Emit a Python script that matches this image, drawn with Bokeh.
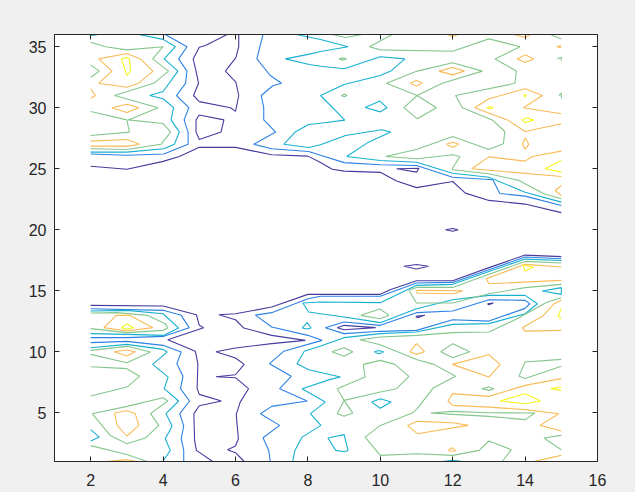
from bokeh.plotting import figure
from bokeh.models import LinearAxis, FixedTicker, Range1d
from bokeh.embed import file_html
from bokeh.resources import INLINE

NAVY = [
 [(2,25.2),(3,24.95),(4,25.6),(4.45,26),(5,26.75),(6,26.75),(7,26.14),(8,26.03),(8.35,25.5),(8.67,24.95),(9,24.8),(10,24.7),(10.45,24),(11,23.45),(12,23.95),(12.35,23),(13,22.4),(14,22.1),(15,21.4)],
 [(5.77,36),(5.17,35.1),(5,34.96),(4.83,34),(4.91,33),(4.98,32),(4.84,31),(5,30.5),(5.86,30),(6,29.7),(6.09,31),(6.01,32.1),(5.72,33),(6.01,34.1),(6.09,35),(6.09,36)],
 [(5,29.4),(5.68,29),(5.6,28),(5,27.4),(4.91,28),(4.91,29),(5,29.4)],
 [(10.45,25),(11.07,25.04),(11,24.72),(10.45,25)],
 [(11.8,20),(12,20.1),(12.15,20),(12,19.87),(11.8,20)],
 [(10.65,17),(11,17.15),(11.33,17),(11,16.78),(10.65,17)],
 [(2,13.8),(4,13.74),(4.92,13.03),(5,12.16),(5.12,11.97),(4.13,10.98),(4.89,10.03),(4.96,9.02),(4.94,6.97),(5,6.5),(5.61,5.96),(5,5.57),(4.85,4.92),(4.87,2.73),(4.92,1.91),(5.37,1)],
 [(6.24,1),(6,1.72),(5.78,1.97),(6,2.27),(6.08,2.87),(6.02,4.84),(6.13,5.87),(6.36,6.97),(6,7.87),(5.46,7.95),(6,8.11),(6.24,8.96),(6,9.48),(5.46,10),(6,10.3),(7,10.66),(7.93,10.93),(7,11.34),(6.23,11.94),(6,12.62),(5.54,13.03),(6,13.11),(7,13.66),(8,14.7),(10,14.7),(10.29,15.1),(11,15.82),(12,15.82),(13,16.89),(14,17.92),(15,17.79)],
 [(8.81,11.97),(9,12.16),(9.87,11.97),(9,11.8),(8.81,11.97)],
 [(10.98,12.9),(11.23,12.98),(11.02,12.79),(10.98,12.9)],
 [(12.96,13.93),(13.12,13.99),(13,13.85),(12.96,13.93)],
]

BLUE = [
 [(4.06,36),(4.66,35),(4.43,34),(4.66,33),(4.62,32),(4.37,31),(4.71,30),(4.58,29),(4.69,28),(4.69,27),(4.02,26.2),(3,26.1),(2,26.2)],
 [(6.76,36),(6.59,34),(6.96,32.64),(7.27,32),(7.03,31.8),(6.71,31),(6.78,30),(6.78,29),(7.11,28),(6.5,27),(7,26.63),(8.02,26.41),(8.35,26.1),(9,25.5),(10,25.32),(11,25.26),(12,24.3),(13.11,24.1),(13.3,22.97),(14,22.75),(15,21.98)],
 [(2,13.52),(4,13.39),(4.5,12.98),(4.72,11.97),(4.02,11.26),(3,11.15),(2,11.15)],
 [(2,10.74),(3,10.85),(4,10.52),(4.5,9.97),(4.38,9.02),(4.55,7.98),(4.48,6.97),(4.73,5.96),(4.46,4.92),(4.57,3.91),(4.5,2.87),(4.57,1.91),(4.57,1)],
 [(6.96,1),(6.92,1.91),(6.76,2.95),(7.22,3.96),(6.69,4.92),(7,5.52),(7.98,5.96),(7.22,6.97),(7.54,7.98),(6.94,9.02),(7.33,10.03),(8.39,10.93),(8,11.34),(7,12.02),(6.55,13),(7,13.2),(8,14.34),(8.35,14.54),(10,14.54),(11,15.63),(12,15.68),(13,16.72),(14,17.76),(15,17.62)],
 [(8.48,11.97),(9,12.43),(10,12.16),(11,13.2),(12,13.33),(13,14.26),(14,14.21),(14.13,13.93),(14,13.55),(13,12.51),(12,12.62),(11,11.75),(10,11.67),(9,11.48),(8.48,11.97)],
]

CYAN = [
 [(3.33,36),(4,35.6),(4.34,35),(4.03,34),(4.41,33),(4,31.33),(3.63,31),(4,30.73),(4.29,30),(4.22,29),(4.45,28),(4.31,27),(4.02,26.63),(3,26.36),(2,26.36)],
 [(7.68,36),(8.35,35.59),(9.11,35),(8.35,34.6),(8.04,34.39),(7.38,34),(8.04,33.54),(8.35,33.4),(9,33.19),(10,34.17),(10.68,34),(10.29,33),(10,32.64),(9,31.9),(8.35,31),(9.02,28.98),(8.35,28.73),(8.02,28.62),(7.65,28),(7.33,27),(8.02,26.74),(8.35,26.96),(9.04,27.72),(10.04,28.19),(10.29,28),(9.64,27.12),(9.07,26),(10,25.67),(11,25.53),(12,24.63),(13,24.3),(14,23.07),(15,22.26)],
 [(9.58,30.02),(9.99,30.54),(10.19,29.99),(10,29.66),(9.58,30.02)],
 [(2,13.33),(3,13.39),(4,13.11),(4.43,11.94),(4.02,11.34),(3,11.42),(2,11.48)],
 [(2,10.33),(3,10.6),(4,10.19),(4.11,9.97),(3.71,8.96),(4.14,7.92),(4.03,6.97),(4.43,5.96),(4.08,4.92),(4.25,3.91),(4.06,2.87),(4.2,1.91),(3.99,1)],
 [(7.86,13.99),(8.35,14.07),(10,14.02),(11,15.44),(12,15.52),(13,16.58),(14,17.59),(15,17.48)],
 [(7.86,13.99),(8.02,13.25),(8.35,13.11),(9,12.84),(10,12.38),(11,13.52),(12,14.26),(13,14.62),(14,14.62),(14.34,13.93),(14,13.11),(13,12.3),(12,12.24),(11,11.61),(10,11.48),(9,11.15),(8.35,10.46),(7.9,10.03),(7.7,9.02),(8.02,8.52),(8.9,7.92),(8.62,7.73),(7.84,6.97),(8.48,5.87),(8.07,4.92),(8.36,3.96),(7.84,3),(7.64,1.91),(7.58,1)],
 [(7.84,11.94),(7.98,12.38),(8.09,11.94),(7.98,11.86),(7.84,11.94)],
 [(2,3.61),(2.24,3),(2,2.68)],
 [(9.83,9.97),(9.96,10.1),(10.1,9.97),(9.96,9.84),(9.83,9.97)],
 [(9.76,5.87),(10,6.15),(10.3,5.87),(10,5.36),(9.76,5.87)],
 [(8.55,2.92),(9,3.2),(9.11,1.91),(9,1.8),(8.77,1.91),(8.55,2.92)],
 [(11.71,1),(12,1.09),(12.27,1)],
 [(14.47,14.97),(15,15.25),(15,14.7),(14.47,14.97)],
 [(2,35.95),(2.1,35.95),(2.2,36)],
]

GREEN = [
 [(2,35.37),(2.41,35),(3,34.74),(4,35),(3.71,34),(4.15,33),(3.74,32),(2.66,31),(3.86,30),(3.04,29),(4,28.7),(4.21,28),(3.94,27),(3,26.57),(2,26.63)],
 [(2,29.69),(3,29),(3.07,28),(2,27.72)],
 [(2,33.51),(2.24,33),(2,32.5)],
 [(8.67,36),(9.04,35.75),(9.5,36)],
 [(8.86,34),(8.95,34.09),(9.07,34),(8.95,33.92),(8.86,34)],
 [(8.92,31),(9.01,31.11),(9.08,31),(9.01,30.89),(8.92,31)],
 [(10.17,32),(11.02,33),(12,33.68),(12.82,33),(11.71,32),(11.02,31),(11.55,30),(11.02,29.09),(10.65,30),(11.02,31),(10.17,32)],
 [(10.33,36),(9.7,35),(10,34.74),(12,34.63),(13,35.64),(13.86,35),(13.17,34),(13.76,33),(13.72,32),(12.08,31),(12.27,30),(13.09,29),(13.44,28.05),(13.4,27.04),(13,26.57),(12,27.64),(11.02,26.6),(10.15,26),(11.02,25.81),(12,26.14),(12.2,26),(11.99,24.99),(12,24.91),(13,24.58),(13.83,24.04),(14.52,22.94),(15,22.53)],
 [(14.7,36),(15,35.64)],
 [(14.89,34),(15,34.14),(15,33.84)],
 [(14.93,31),(15,31.19),(15,30.78)],
 [(2,13.17),(2.73,13.2),(3.56,12.98),(4.06,12.3),(4.13,11.94),(4,11.75),(3,11.56),(2,11.89)],
 [(2,10.11),(3,10.44),(3.65,9.97),(3,9.1),(2,9.78)],
 [(2,8.77),(3,8.61),(3.35,7.98),(3,7.1),(2,6.37)],
 [(2.04,4.92),(3,5.52),(4,6.23),(4.13,5.96),(3.65,4.92),(3.88,3.96),(3.51,2.92),(3,2.46),(2.54,3.14),(2.04,4.92)],
 [(2,2.3),(3,1.58),(3.56,1)],
 [(15,17.27),(14,17.4),(13,16.34),(12,15.27),(11,15.27),(10.79,15.03),(11,13.99),(12,13.99),(13,14.75),(14,15.25),(15,15.52)],
 [(15,14.43),(14.61,14.07),(13.78,12.7),(13,11.61),(12,11.56),(11.02,11.34),(10,11.2),(9.44,10.98),(10,10.57),(11.02,9.34),(11.48,8.96),(12.08,7.98),(11.46,7.02),(11.02,5.33),(10.88,4.97),(10,3.96),(9.58,3),(10,1.5),(11.02,1.64),(12,1.5),(12.73,1.91),(13,2.68),(13.62,1.97),(13.37,1)],
 [(9,6.01),(8.81,6.97),(9.58,7.92),(9.53,8.96),(10,9.29),(10.4,8.96),(10.79,7.98),(10.45,6.97),(10,6.69),(9,6.01),(8.81,4.92),(9,4.7),(9.24,4.97),(9,6.01)],
 [(8.66,10),(9,10.33),(9.24,10),(9,9.62),(8.66,10)],
 [(11.67,10),(12,10.66),(12.47,10),(12,9.51),(11.67,10)],
 [(9.46,12.98),(9.99,13.5),(10.24,12.98),(9.99,12.7),(9.46,12.98)],
 [(12.8,6.97),(13,7.1),(13.14,6.97),(13,6.83),(12.8,6.97)],
 [(11.39,4.97),(12,5.11),(13,5),(14.27,4.97),(14,4.43),(13,4.7),(12,4.86),(11.39,4.97)],
 [(15,9.37),(14,9.15),(13.83,7.98),(14,7.81),(15,8.8)],
 [(15,3.14),(14.52,2.92),(15,1.96)],
]

ORANGE = [
 [(2.22,34),(3,34.44),(3.37,34),(3.72,33),(3.32,32),(3,31.68),(2.22,32),(2.59,33),(2.22,34)],
 [(2,31.55),(2.13,31),(2,30.78)],
 [(2.58,30),(3,30.29),(3.33,30),(3,29.6),(2.58,30)],
 [(2,27.26),(3,27.39),(3.35,27),(3.02,26.85),(2,26.85)],
 [(11.62,33),(12,33.3),(12.33,33),(12,32.69),(11.62,33)],
 [(10.82,32),(11,32.23),(11.17,32),(11,31.77),(10.82,32)],
 [(11.85,36),(12,35.84),(12.15,36)],
 [(13.69,36),(14,35.75),(14.15,36)],
 [(15,35.1),(14.87,35),(15,34.91)],
 [(13.78,34),(14,34.33),(14.24,34),(14,33.73),(13.78,34)],
 [(15,29.5),(13.95,30),(14.48,31),(14,31.55),(13,30.73),(12.61,30),(13.51,29),(14,28.05),(15,28.68)],
 [(11.82,27),(12,27.17),(12.17,27),(12,26.76),(11.82,27)],
 [(14,27.53),(14.1,27),(14,26.6),(13.93,27),(14,27.53)],
 [(15,26.44),(14.2,26),(14,25.62),(13,25.97),(12.53,25),(15,24.36)],
 [(15,23.62),(14.83,23.21),(15,22.8)],
 [(2.36,11.97),(2.71,12.98),(3.07,12.98),(3.72,11.97),(3,11.7),(2.36,11.97)],
 [(2.64,10),(3,10.14),(3.23,10),(3,9.64),(2.64,10)],
 [(2.66,4.97),(3,5.16),(3.23,4.92),(3.33,3.96),(3,3.09),(2.73,3.96),(2.66,4.97)],
 [(2.41,1),(3,1.15),(3.28,1)],
 [(15,16.94),(14,17.16),(12.93,15.98),(13,15.57),(15,15.85)],
 [(10.98,14.95),(11.02,15.03),(12.28,15),(12.03,14.75),(11.02,14.81),(10.98,14.95)],
 [(15,14.21),(14.8,13.93),(14.48,12.9),(13.92,11.97),(14,11.69),(15,11.75)],
 [(10.82,10),(11,10.66),(11.22,10),(11,9.78),(10.82,10)],
 [(11.99,8.96),(13,9.75),(13.31,8.96),(13,7.92),(11.99,8.96)],
 [(15,7.79),(14,7.24),(13,6.34),(12,6.56),(11.87,5.96),(12,5.6),(13,5.46),(14,5.25),(14.93,4.92),(14.41,3.96),(15,3.5)],
 [(10.75,3.96),(11.02,4.29),(12,4.18),(12.43,3.96),(11.02,3.28),(10.75,3.96)],
 [(11.88,1.97),(12,2.13),(12.08,1.86),(11.9,1.86),(11.88,1.97)],
 [(14.24,1),(15,1.5)],
]

YELLOW = [
 [(2.85,34),(3,34.11),(3.07,34),(3.1,33),(3,32.64),(2.85,34)],
 [(2.84,11.97),(3,12.27),(3.19,11.97),(3,11.83),(2.84,11.97)],
 [(13.95,31),(14,31.08),(14.04,31),(14,30.92),(13.95,31)],
 [(12.94,30),(13.03,30.1),(13.12,30),(13.03,29.9),(12.94,30)],
 [(13.91,29),(14.04,29.17),(14.24,28.98),(14.01,28.79),(13.91,29)],
 [(15,25.67),(14.55,25),(15,24.72)],
 [(13.94,17.08),(14.23,16.94),(14,16.61),(13.94,17.08)],
 [(13.31,5.96),(14,6.56),(14.43,5.96),(14,5.74),(13.31,5.96)],
 [(15,7.1),(14.71,6.97),(15,6.83)],
 [(15,13.52),(14.91,12.92),(15,12.7)],
 [(14.94,1),(15,1.02)],
]

X_TICKS = [2, 4, 6, 8, 10, 12, 14, 16]
Y_TICKS = [5, 10, 15, 20, 25, 30, 35]
LEVELS = [(NAVY, "#463c9e"), (BLUE, "#2c82e4"), (CYAN, "#17b0d0"),
          (GREEN, "#85c68c"), (ORANGE, "#f8bb57"), (YELLOW, "#f5f520")]

BG = "#f0f0f0"
INK = "#262626"

p = figure(width=635, height=492, toolbar_location=None, output_backend="svg",
           x_range=Range1d(1, 16), y_range=Range1d(1, 36),
           min_border_left=54, min_border_right=38, min_border_top=34, min_border_bottom=31,
           background_fill_color="white", border_fill_color=BG, x_axis_location=None, y_axis_location=None)
p.grid.visible = False
p.outline_line_color = INK
p.outline_line_width = 1


def style(ax, ticks, labels, standoff):
    ax.ticker = FixedTicker(ticks=ticks)
    ax.axis_line_color = INK
    ax.axis_line_width = 1
    ax.major_tick_line_color = INK
    ax.major_tick_line_width = 1
    ax.major_tick_in = 5
    ax.major_tick_out = 0
    ax.minor_tick_line_color = None
    ax.major_label_text_color = INK
    ax.major_label_text_font = "Liberation Sans"
    ax.major_label_text_font_size = "16px"
    ax.major_label_standoff = standoff
    if not labels:
        ax.major_label_overrides = {t: "" for t in ticks}
        ax.major_label_standoff = 0


for side, ticks, labels, standoff in (("below", X_TICKS, True, 12), ("above", X_TICKS, False, 0),
                                      ("left", Y_TICKS, True, 8), ("right", Y_TICKS, False, 0)):
    ax = LinearAxis()
    style(ax, ticks, labels, standoff)
    p.add_layout(ax, side)

for paths, color in LEVELS:
    p.multi_line([[q[0] for q in path] for path in paths],
                 [[q[1] for q in path] for path in paths],
                 line_color=color, line_width=1.1)

html = file_html(p, INLINE)
html = html.replace("<head>", "<head><style>html,body{background:#f0f0f0;margin:0;overflow:hidden;}</style>", 1)
open("out.html", "w").write(html)
